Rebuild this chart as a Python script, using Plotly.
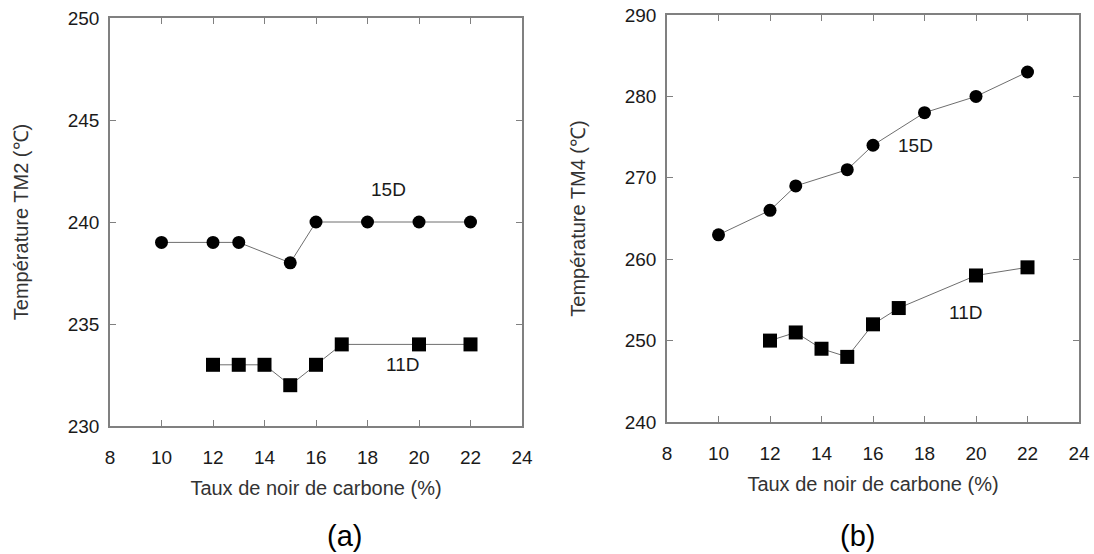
import plotly.graph_objects as go

# Data
x_15d = [10, 12, 13, 15, 16, 18, 20, 22]
x_11d = [12, 13, 14, 15, 16, 17, 20, 22]
tm2_15d = [239, 239, 239, 238, 240, 240, 240, 240]
tm2_11d = [233, 233, 233, 232, 233, 234, 234, 234]
tm4_15d = [263, 266, 269, 271, 274, 278, 280, 283]
tm4_11d = [250, 251, 249, 248, 252, 254, 258, 259]
x_ticks = [8, 10, 12, 14, 16, 18, 20, 22, 24]
y_ticks_a = [230, 235, 240, 245, 250]
y_ticks_b = [240, 250, 260, 270, 280, 290]

FONT = "Liberation Sans, Arial, sans-serif"
LINE_C = "#6e6e6e"
AX_C = "#808080"
TXT_C = "#1a1a1a"

W, H = 1094, 554
# plot region in page pixels
L, R, T, B = 110, 1079, 15, 426
PW, PH = R - L, B - T

def px_x(a, b):
    return [(a - L) / PW, (b - L) / PW]

def px_y(top, bottom):
    return [(B - bottom) / PH, (B - top) / PH]

fig = go.Figure()

def add_series(x, y, symbol, size, xa, ya):
    fig.add_trace(go.Scatter(
        x=x, y=y, mode="lines+markers", xaxis=xa, yaxis=ya,
        line=dict(color=LINE_C, width=1),
        marker=dict(symbol=symbol, size=size, color="black"),
        showlegend=False, hoverinfo="skip"))

add_series(x_15d, tm2_15d, "circle", 13, "x", "y")
add_series(x_11d, tm2_11d, "square", 14, "x", "y")
add_series(x_15d, tm4_15d, "circle", 13, "x2", "y2")
add_series(x_11d, tm4_11d, "square", 14, "x2", "y2")

axis_common = dict(
    showline=True, linecolor=AX_C, linewidth=1.5, mirror="ticks",
    ticks="inside", ticklen=6, tickwidth=1, tickcolor=AX_C,
    showgrid=False, zeroline=False, automargin=False,
    ticklabeloverflow="allow",
    tickfont=dict(family=FONT, size=19, color=TXT_C),
)
title_font = dict(family=FONT, size=20, color="#333")

def xax(dom, anchor):
    return dict(domain=dom, range=[8, 24], tickvals=x_ticks, anchor=anchor,
                ticklabelstandoff=13,
                title=dict(text="Taux de noir de carbone (%)", standoff=14, font=title_font),
                **axis_common)

def yax(dom, anchor, rng, ticks, label):
    return dict(domain=dom, range=rng, tickvals=ticks, anchor=anchor,
                ticklabelstandoff=5,
                title=dict(text=label, standoff=34, font=title_font),
                **axis_common)

fig.update_layout(
    template="none",
    width=W, height=H,
    margin=dict(l=L, r=W - R, t=T, b=H - B, pad=0),
    paper_bgcolor="white", plot_bgcolor="white",
    font=dict(family=FONT, color=TXT_C),
    showlegend=False,
    xaxis=xax(px_x(110, 522), "y"),
    yaxis=yax(px_y(18, 426), "x", [230, 250], y_ticks_a, "Température TM2 (℃)"),
    xaxis2=xax(px_x(667, 1079), "y2"),
    yaxis2=yax(px_y(15, 422), "x2", [240, 290], y_ticks_b, "Température TM4 (℃)"),
)

ann_font = dict(family=FONT, size=19, color=TXT_C)
fig.add_annotation(x=18.8, y=241.6, xref="x", yref="y", text="15D", showarrow=False, font=ann_font)
fig.add_annotation(x=19.35, y=233.0, xref="x", yref="y", text="11D", showarrow=False, font=ann_font)
fig.add_annotation(x=17.65, y=274.0, xref="x2", yref="y2", text="15D", showarrow=False, font=ann_font)
fig.add_annotation(x=19.6, y=253.5, xref="x2", yref="y2", text="11D", showarrow=False, font=ann_font)

lab_font = dict(family=FONT, size=29, color="black")
fig.add_annotation(x=(344 - L) / PW, y=(B - 536) / PH, xref="paper", yref="paper", text="(a)",
                   showarrow=False, font=lab_font, xanchor="center", yanchor="middle")
fig.add_annotation(x=(857 - L) / PW, y=(B - 536) / PH, xref="paper", yref="paper", text="(b)",
                   showarrow=False, font=lab_font, xanchor="center", yanchor="middle")

fig.write_html(
    "out.html",
    config={"displayModeBar": False},
    post_script="document.body.style.margin='0';document.body.style.overflow='hidden';",
)
